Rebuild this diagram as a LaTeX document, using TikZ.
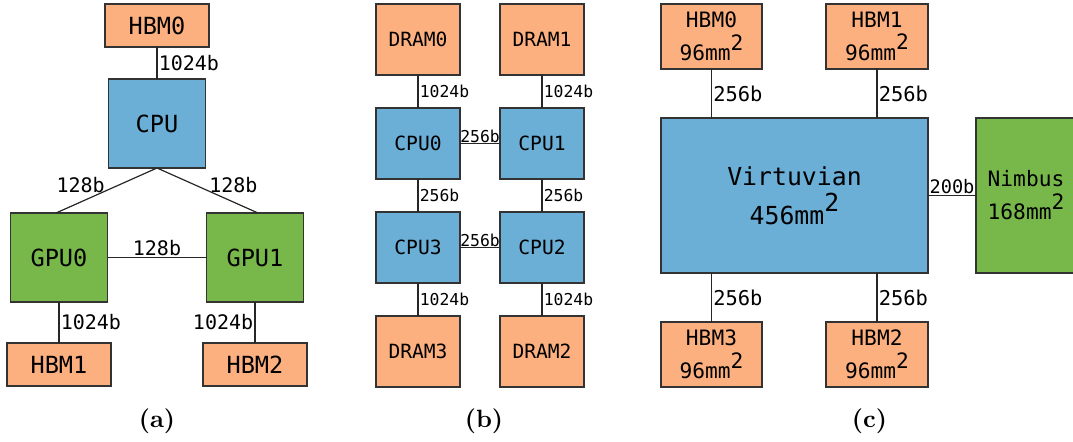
\documentclass[tikz,border=0pt]{standalone}
\usepackage{fontspec}
\setmonofont{DejaVu Sans Mono}
\newfontfamily\capfont{lmroman10-bold.otf}
\definecolor{hbmc}{RGB}{253,176,127}
\definecolor{cpuc}{RGB}{107,174,214}
\definecolor{gpuc}{RGB}{120,184,74}
% monospaced text at a given size / line spacing
\newcommand\tsz[2]{\fontsize{#1}{#2}\selectfont\ttfamily}
% raised "2" for square millimetres
\newcommand\mmsq{\raisebox{0.5em}{2}}
\begin{document}
\begin{tikzpicture}[x=0.5pt,y=-0.5pt,
  box/.style={draw=black!80, line width=0.6pt, inner sep=0pt, outer sep=0pt, align=center, text=black},
  hbm/.style={box, fill=hbmc},
  cpu/.style={box, fill=cpuc},
  gpu/.style={box, fill=gpuc},
  wire/.style={draw=black!85, line width=0.6pt},
  lblA/.style={inner sep=0.6pt, font=\tsz{10}{12}},
  lblB/.style={inner sep=0.6pt, font=\tsz{8.2}{10}},
  lblC/.style={inner sep=0.6pt, font=\tsz{10.2}{12}},
  lblD/.style={inner sep=0.4pt, font=\tsz{9.3}{11}},
  subcap/.style={font=\capfont\fontsize{12.5}{15}\selectfont, anchor=base, inner sep=0pt},
  abox/.style={minimum width=48.5pt, minimum height=44.5pt, font=\tsz{11.8}{14}},
  amem/.style={minimum width=52pt, minimum height=21.5pt, font=\tsz{11.8}{14}},
  bbox/.style={minimum width=42pt, minimum height=35.5pt, font=\tsz{9.8}{12}},
  cmem/.style={minimum width=51pt, minimum height=32.5pt, font=\tsz{10.6}{16.5}},
]
\clip (0,0) rectangle (1073,441);

% ---------------- (a) CPU with two GPUs ----------------
\node[hbm, amem] (aHBM0) at (157,25.5) {HBM0};
\node[cpu, abox] (aCPU) at (157,123.5) {CPU};
\node[gpu, abox] (aGPU0) at (59,257.5) {GPU0};
\node[gpu, abox] (aGPU1) at (255,257.5) {GPU1};
\node[hbm, amem] (aHBM1) at (59,364.5) {HBM1};
\node[hbm, amem] (aHBM2) at (255,364.5) {HBM2};

\draw[wire] (aHBM0) -- node[lblA, anchor=west] {1024b} (aCPU);
\draw[wire] (aCPU.south) -- node[lblA, anchor=east, yshift=2.5pt] {128b} ([xshift=-1.5pt]aGPU0.north);
\draw[wire] (aCPU.south) -- node[lblA, anchor=west, yshift=2.5pt] {128b} ([xshift=1.5pt]aGPU1.north);
\draw[wire] (aGPU0) -- node[lblA, above] {128b} (aGPU1);
\draw[wire] (aGPU0) -- node[lblA, anchor=west] {1024b} (aHBM1);
\draw[wire] (aGPU1) -- node[lblA, anchor=east] {1024b} (aHBM2);
\node[subcap] (capA) at (157,427) {(a)};

% ---------------- (b) four-socket ring ----------------
\node[hbm, bbox] (bDRAM0) at (418,39.5) {DRAM0};
\node[hbm, bbox] (bDRAM1) at (542,39.5) {DRAM1};
\node[cpu, bbox] (bCPU0) at (418,143.5) {CPU0};
\node[cpu, bbox] (bCPU1) at (542,143.5) {CPU1};
\node[cpu, bbox] (bCPU3) at (418,247.5) {CPU3};
\node[cpu, bbox] (bCPU2) at (542,247.5) {CPU2};
\node[hbm, bbox] (bDRAM3) at (418,351.5) {DRAM3};
\node[hbm, bbox] (bDRAM2) at (542,351.5) {DRAM2};

\draw[wire] (bDRAM0) -- node[lblB, anchor=west] {1024b} (bCPU0);
\draw[wire] (bDRAM1) -- node[lblB, anchor=west] {1024b} (bCPU1);
\draw[wire] (bCPU0) -- node[lblB, above, inner sep=0.3pt] {256b} (bCPU1);
\draw[wire] (bCPU0) -- node[lblB, anchor=west] {256b} (bCPU3);
\draw[wire] (bCPU1) -- node[lblB, anchor=west] {256b} (bCPU2);
\draw[wire] (bCPU3) -- node[lblB, above, inner sep=0.3pt] {256b} (bCPU2);
\draw[wire] (bCPU3) -- node[lblB, anchor=west] {1024b} (bDRAM3);
\draw[wire] (bCPU2) -- node[lblB, anchor=west] {1024b} (bDRAM2);
\node[subcap] (capB) at (484,427) {(b)};

% ---------------- (c) Virtuvian package ----------------
\node[hbm, cmem, minimum width=50.5pt] (cHBM0) at (711.5,36.5) {HBM0\\96mm\mmsq};
\node[hbm, cmem] (cHBM1) at (877,36.5) {HBM1\\96mm\mmsq};
\node[cpu, minimum width=133.5pt, minimum height=77.5pt, font=\tsz{12.4}{19.5}] (cV) at (794.5,195.5) {Virtuvian\\456mm\mmsq};
\node[gpu, minimum width=50pt, minimum height=77.5pt, font=\tsz{10.6}{16.5}] (cN) at (1026,195.5) {Nimbus\\168mm\mmsq};
\node[hbm, cmem, minimum width=50.5pt] (cHBM3) at (711.5,354.5) {HBM3\\96mm\mmsq};
\node[hbm, cmem] (cHBM2) at (877,354.5) {HBM2\\96mm\mmsq};

\draw[wire] (cHBM0.south) -- node[lblC, anchor=west] {256b} (cHBM0.south |- cV.north);
\draw[wire] (cHBM1.south) -- node[lblC, anchor=west] {256b} (cHBM1.south |- cV.north);
\draw[wire] (cHBM3.north |- cV.south) -- node[lblC, anchor=west] {256b} (cHBM3.north);
\draw[wire] (cHBM2.north |- cV.south) -- node[lblC, anchor=west] {256b} (cHBM2.north);
\draw[wire] (cV) -- node[lblD, above] {200b} (cN);
\node[subcap] (capC) at (869.5,427) {(c)};
\end{tikzpicture}
\end{document}
